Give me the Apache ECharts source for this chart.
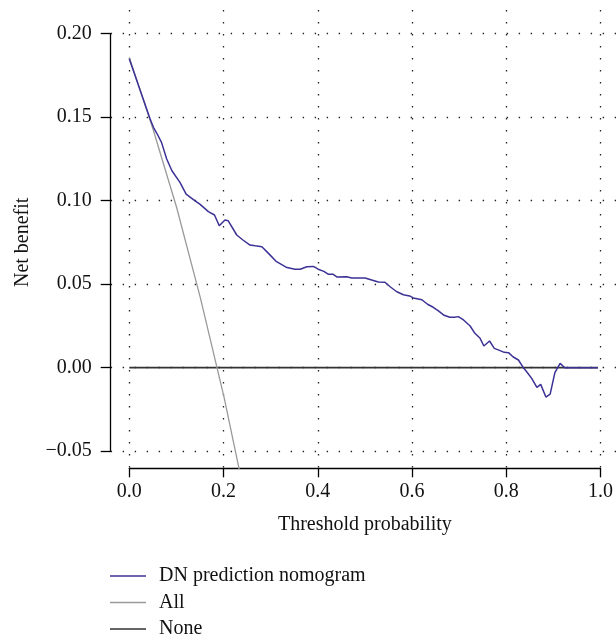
<!DOCTYPE html>
<html><head><meta charset="utf-8">
<script src="https://cdn.jsdelivr.net/npm/echarts@6/dist/echarts.min.js"></script>
<style>html,body{margin:0;padding:0;background:#fff}#c{width:616px;height:636px}</style>
</head><body><div id="c"></div>
<script>
// ---- data ----
const thresholds = [0.000,0.044,0.051,0.059,0.068,0.079,0.090,0.107,0.120,0.139,0.149,0.167,0.180,0.190,0.202,0.209,0.227,0.240,0.255,0.266,0.280,0.294,0.311,0.333,0.350,0.361,0.375,0.389,0.399,0.411,0.420,0.430,0.439,0.459,0.470,0.498,0.512,0.526,0.540,0.551,0.565,0.579,0.592,0.600,0.618,0.630,0.642,0.653,0.665,0.677,0.687,0.695,0.706,0.720,0.730,0.741,0.749,0.761,0.771,0.782,0.792,0.801,0.811,0.822,0.831,0.841,0.850,0.861,0.869,0.880,0.889,0.899,0.910,0.920,0.990];
const dnBenefit = [0.185,0.149,0.144,0.140,0.135,0.125,0.118,0.111,0.104,0.100,0.098,0.0935,0.0915,0.085,0.0885,0.088,0.0795,0.0765,0.0735,0.073,0.0725,0.0685,0.0635,0.060,0.059,0.059,0.0605,0.0607,0.059,0.0577,0.056,0.056,0.0543,0.0545,0.0537,0.0537,0.0525,0.0513,0.0512,0.0485,0.0455,0.0437,0.043,0.0418,0.0407,0.038,0.0362,0.034,0.0314,0.0302,0.0302,0.0306,0.0286,0.025,0.0206,0.0176,0.013,0.016,0.0116,0.0104,0.0092,0.009,0.0064,0.0046,0.0006,-0.003,-0.0064,-0.0118,-0.010,-0.0176,-0.0158,-0.003,0.0026,0.000,0.000];
const allThresholds = [0.00,0.05,0.10,0.15,0.20,0.25];
const allBenefit = [0.186,0.143,0.096,0.042,-0.0175,-0.085];
const noneThresholds = [0.00,0.99];
const noneBenefit = [0,0];
const seriesNames = ['DN prediction nomogram','All','None'];
const xTickLabels = ['0.0','0.2','0.4','0.6','0.8','1.0'];
const yTickLabels = ['\u22120.05','0.00','0.05','0.10','0.15','0.20'];
const xTitle = 'Threshold probability';
const yTitle = 'Net benefit';

const FONT = 'Liberation Serif';
const FS = 20;
const dotted = {type:[1.4,10.6], color:'#222', width:1.3};
const pair = (xs, ys) => xs.map((x,i)=>[x, ys[i]]);
const legendTops = [566, 592.5, 619];

const chart = echarts.init(document.getElementById('c'), null, {renderer:'canvas'});
chart.setOption({
  backgroundColor:'#fff',
  animation:false,
  grid:[
    {left:129.3, right:13.3, top:10, bottom:167.7},   // x axis display
    {left:110.7, right:0, top:33.7, bottom:185},      // y axis display
    {left:110.7, right:0, top:10, bottom:167.7}       // plot region
  ],
  xAxis:[
    {gridIndex:0, type:'value', min:0, max:1, interval:0.2,
     axisLine:{show:true, lineStyle:{color:'#000', width:1.3}},
     axisTick:{show:true, inside:false, length:9, lineStyle:{color:'#000', width:1.3}},
     axisLabel:{margin:13, color:'#111', fontFamily:FONT, fontSize:FS,
       formatter:(v)=>xTickLabels[Math.round(v/0.2)]},
     splitLine:{show:true, lineStyle:dotted},
     name:xTitle, nameLocation:'middle', nameGap:46,
     nameTextStyle:{fontFamily:FONT, fontSize:FS, color:'#111'}},
    {gridIndex:1, type:'value', min:0, max:1, show:false},
    {gridIndex:2, type:'value', min:-0.0393, max:1.0281, show:false}
  ],
  yAxis:[
    {gridIndex:0, type:'value', min:0, max:1, show:false},
    {gridIndex:1, type:'value', min:-0.05, max:0.2, interval:0.05,
     axisLine:{show:true, lineStyle:{color:'#000', width:1.3}},
     axisTick:{show:true, inside:false, length:10, lineStyle:{color:'#000', width:1.3}},
     axisLabel:{margin:19, color:'#111', fontFamily:FONT, fontSize:FS,
       formatter:(v)=>yTickLabels[Math.round((v+0.05)/0.05)]},
     splitLine:{show:true, lineStyle:dotted},
     name:yTitle, nameLocation:'middle', nameGap:78, nameRotate:90,
     nameTextStyle:{fontFamily:FONT, fontSize:FS, color:'#111'}},
    {gridIndex:2, type:'value', min:-0.06027, max:0.2143, show:false}
  ],
  legend: seriesNames.map((n,i)=>({
    orient:'vertical', left:110, top:legendTops[i], itemWidth:36, itemHeight:1.6,
    icon:'rect', data:[n], padding:0, selectedMode:false,
    textStyle:{fontFamily:FONT, fontSize:FS, color:'#111', padding:[0,0,0,8]}
  })),
  series:[
    {name:seriesNames[0], type:'line', xAxisIndex:2, yAxisIndex:2, z:4,
     data:pair(thresholds, dnBenefit), showSymbol:false, symbol:'none', clip:true,
     lineStyle:{color:'#3c3296', width:1.5}, itemStyle:{color:'#3c3296'}},
    {name:seriesNames[1], type:'line', xAxisIndex:2, yAxisIndex:2, z:3,
     data:pair(allThresholds, allBenefit), showSymbol:false, symbol:'none', clip:true,
     lineStyle:{color:'#9a9a9a', width:1.3}, itemStyle:{color:'#9a9a9a'}},
    {name:seriesNames[2], type:'line', xAxisIndex:2, yAxisIndex:2, z:2,
     data:pair(noneThresholds, noneBenefit), showSymbol:false, symbol:'none', clip:true,
     lineStyle:{color:'#333', width:1.8}, itemStyle:{color:'#333'}}
  ]
});
</script></body></html>
